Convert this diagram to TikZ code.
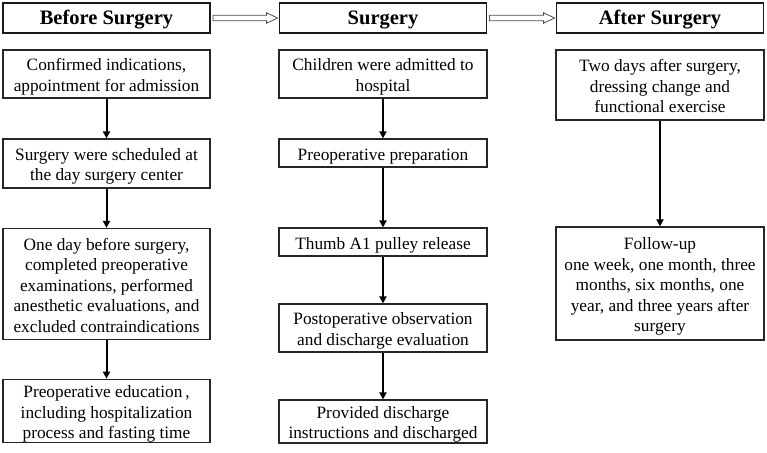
\documentclass[tikz,border=0pt]{standalone}
\usepackage{fontspec}
\setmainfont{Liberation Serif}
\usetikzlibrary{arrows.meta,calc}
\newcommand\boxtext[1]{\raisebox{-3pt}[\height][\depth]{\begin{tabular}{@{}c@{}}#1\end{tabular}}}
\begin{document}
\begin{tikzpicture}[x=1pt,y=-1pt,
  box/.style={draw=black!85, line width=1.2pt, inner sep=1pt,
    font=\fontsize{17.3}{20.5}\selectfont},
  head/.style={draw=black!90, line width=1.8pt, minimum width=207pt, minimum height=30pt,
    inner sep=0pt, font=\fontsize{20.5}{24}\selectfont\bfseries},
  flow/.style={line width=2pt, -{Triangle[length=7pt,width=7pt]}},
  hollow/.style={draw=black!70, line width=0.8pt, fill=white}]
\useasboundingbox (0,0) rectangle (767,452);
% headers
\node[head] (h1) at (106.5,18) {\raisebox{-1.5pt}[\height][\depth]{Before Surgery}};
\node[head] (h2) at (383,18) {\raisebox{-1.5pt}[\height][\depth]{Surgery}};
\node[head] (h3) at (660,18) {\raisebox{-1.5pt}[\height][\depth]{After Surgery}};
% hollow arrows
\foreach \a/\b in {h1/h2,h2/h3}{
  \draw[hollow] ($(\a.east)+(2,-2.7)$) -- ($(\b.west)+(-12,-2.7)$) -- ($(\b.west)+(-12,-5.2)$)
    -- ($(\b.west)+(-1,0)$) -- ($(\b.west)+(-12,5.2)$) -- ($(\b.west)+(-12,2.7)$)
    -- ($(\a.east)+(2,2.7)$) -- cycle;
}
% column 1
\node[box, minimum width=207pt, minimum height=48pt] (a1) at (106.5,74) {\boxtext{Confirmed indications,\\appointment for admission}};
\node[box, minimum width=207pt, minimum height=49pt] (a2) at (106.5,163.5) {\boxtext{Surgery were scheduled at\\the day surgery center}};
\node[box, minimum width=207pt, minimum height=111pt] (a3) at (106.5,284) {\boxtext{One day before surgery,\\completed preoperative\\examinations, performed\\anesthetic evaluations, and\\excluded contraindications}};
\node[box, minimum width=207pt, minimum height=60pt] (a4) at (106.5,411) {\boxtext{Preoperative education\,,\\including hospitalization\\process and fasting time}};
% column 2
\node[box, minimum width=208pt, minimum height=48pt] (b1) at (383,74) {\boxtext{Children were admitted to\\hospital}};
\node[box, minimum width=208pt, minimum height=28pt] (b2) at (383,153) {\boxtext{Preoperative preparation}};
\node[box, minimum width=208pt, minimum height=28pt] (b3) at (383,242) {\boxtext{Thumb A1 pulley release}};
\node[box, minimum width=208pt, minimum height=48pt] (b4) at (383,328) {\boxtext{Postoperative observation\\and discharge evaluation}};
\node[box, minimum width=208pt, minimum height=39pt] (b5) at (383,421.5) {\boxtext{Provided discharge\\instructions and discharged}};
% column 3
\node[box, minimum width=208pt, minimum height=70pt] (c1) at (660,85) {\boxtext{Two days after surgery,\\dressing change and\\functional exercise}};
\node[box, minimum width=208pt, minimum height=113pt] (c2) at (660,283.5) {\boxtext{Follow-up\\one week, one month, three\\months, six months, one\\year, and three years after\\surgery}};
% connectors
\draw[flow] (a1) -- (a2);
\draw[flow] (a2) -- (a3);
\draw[flow] (a3) -- (a4);
\draw[flow] (b1) -- (b2);
\draw[flow] (b2) -- (b3);
\draw[flow] (b3) -- (b4);
\draw[flow] (b4) -- (b5);
\draw[flow] (c1) -- (c2);
\end{tikzpicture}
\end{document}
